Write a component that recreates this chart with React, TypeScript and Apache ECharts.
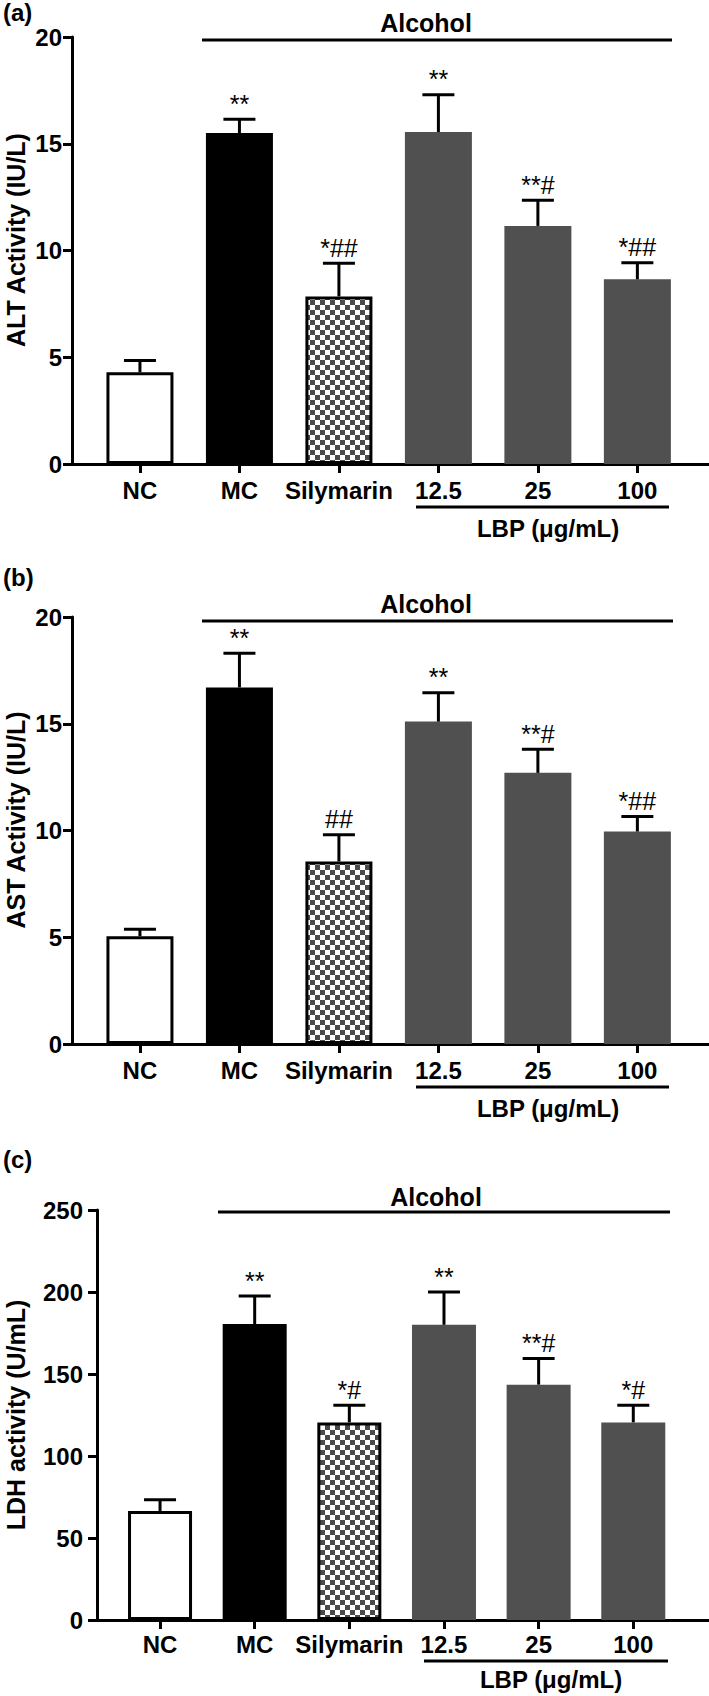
import React, { useEffect, useRef } from "react";
import * as echarts from "echarts";

// ---------------- data ----------------
const categories = ["NC", "MC", "Silymarin", "12.5", "25", "100"];

const altMean = [4.3, 15.5, 7.85, 15.55, 11.15, 8.65];
const altErr = [0.55, 0.65, 1.55, 1.75, 1.2, 0.78];
const altNotes = ["", "**", "*##", "**", "**#", "*##"];

const astMean = [5.05, 16.7, 8.55, 15.1, 12.7, 9.95];
const astErr = [0.33, 1.6, 1.25, 1.35, 1.1, 0.7];
const astNotes = ["", "**", "##", "**", "**#", "*##"];

const ldhMean = [66.5, 180.5, 120.5, 180, 143.5, 120.5];
const ldhErr = [6.8, 17, 10.5, 20, 16, 10.5];
const ldhNotes = ["", "**", "*#", "**", "**#", "*#"];

const altTicks = { max: 20, interval: 5 };
const astTicks = { max: 20, interval: 5 };
const ldhTicks = { max: 250, interval: 50 };

const panelLetters = ["(a)", "(b)", "(c)"];
const yTitles = ["ALT Activity (IU/L)", "AST Activity (IU/L)", "LDH activity (U/mL)"];
const groupLabel = "Alcohol";
const doseLabel = "LBP (\u03bcg/mL)";

const FONT = '"Liberation Sans", Arial, Helvetica, sans-serif';

function makeChecker(): HTMLCanvasElement {
  const c = document.createElement("canvas");
  c.width = 10;
  c.height = 10;
  const ctx = c.getContext("2d")!;
  ctx.fillStyle = "#ffffff";
  ctx.fillRect(0, 0, 10, 10);
  ctx.fillStyle = "#4a4a4a";
  ctx.fillRect(0, 0, 5, 5);
  ctx.fillRect(5, 5, 5, 5);
  return c;
}

export default function App() {
  const ref = useRef<HTMLDivElement>(null);

  useEffect(() => {
    document.body.style.margin = "0";
    if (!ref.current) return;
    const chart = echarts.init(ref.current, undefined, { renderer: "svg" });
    const checker = makeChecker();

    const barStyles = [
      { color: "#ffffff", borderColor: "#000000", borderWidth: 3 },
      { color: "#000000" },
      { color: { image: checker, repeat: "repeat" }, borderColor: "#000000", borderWidth: 3 },
      { color: "#505050" },
      { color: "#505050" },
      { color: "#505050" },
    ];

    const panels = [
      {
        mean: altMean, err: altErr, notes: altNotes, ticks: altTicks,
        grid: { left: 72, top: 37, width: 637, height: 427 },
        xMin: -0.683, xMax: 5.72, barWidth: 67, yLabelMargin: 10, xLabelMargin: 14,
        letterY: 12, titleY: 240,
        alcohol: { x: 426, y: 23, x1: 202, x2: 672, ly: 40 },
        lbp: { x1: 416, x2: 669, ly: 507, tx: 548, ty: 528 },
      },
      {
        mean: astMean, err: astErr, notes: astNotes, ticks: astTicks,
        grid: { left: 72, top: 617, width: 637, height: 427 },
        xMin: -0.683, xMax: 5.72, barWidth: 67, yLabelMargin: 10, xLabelMargin: 14,
        letterY: 577, titleY: 820,
        alcohol: { x: 426, y: 604, x1: 202, x2: 673, ly: 621 },
        lbp: { x1: 416, x2: 669, ly: 1087, tx: 548, ty: 1108 },
      },
      {
        mean: ldhMean, err: ldhErr, notes: ldhNotes, ticks: ldhTicks,
        grid: { left: 97, top: 1210, width: 612, height: 410 },
        xMin: -0.666, xMax: 5.8, barWidth: 64, yLabelMargin: 14, xLabelMargin: 12,
        letterY: 1159, titleY: 1415,
        alcohol: { x: 436, y: 1197, x1: 218, x2: 670, ly: 1212 },
        lbp: { x1: 424, x2: 668, ly: 1661, tx: 551, ty: 1679 },
      },
    ];

    const idxs = categories.map((_, i) => i);
    const grids: any[] = [];
    const xAxes: any[] = [];
    const yAxes: any[] = [];
    const series: any[] = [];
    const graphics: any[] = [];

    panels.forEach((p, k) => {
      grids.push({ ...p.grid, outerBoundsMode: "none", containLabel: false });
      xAxes.push({
        gridIndex: k,
        type: "value",
        min: p.xMin,
        max: p.xMax,
        axisLine: { show: true, onZero: false, lineStyle: { color: "#000", width: 3 } },
        axisTick: { show: true, customValues: idxs, length: 9, lineStyle: { color: "#000", width: 3 } },
        axisLabel: {
          show: true,
          customValues: idxs,
          formatter: (v: number) => categories[Math.round(v)] ?? "",
          color: "#000",
          fontWeight: "bold",
          fontSize: 24,
          fontFamily: FONT,
          margin: p.xLabelMargin,
        },
        splitLine: { show: false },
      });
      yAxes.push({
        gridIndex: k,
        type: "value",
        min: 0,
        max: p.ticks.max,
        interval: p.ticks.interval,
        axisLine: { show: true, onZero: false, lineStyle: { color: "#000", width: 3 } },
        axisTick: { show: true, length: 9, lineStyle: { color: "#000", width: 3 } },
        axisLabel: {
          color: "#000",
          fontWeight: "bold",
          fontSize: 24,
          fontFamily: FONT,
          margin: p.yLabelMargin,
        },
        splitLine: { show: false },
      });
      series.push({
        type: "bar",
        xAxisIndex: k,
        yAxisIndex: k,
        barWidth: p.barWidth,
        silent: true,
        data: p.mean.map((v, i) => ({ value: [i, v], itemStyle: barStyles[i] })),
      });
      const notes = p.notes;
      series.push({
        type: "custom",
        xAxisIndex: k,
        yAxisIndex: k,
        z: 10,
        silent: true,
        encode: { x: 0, y: 1 },
        data: p.mean.map((v, i) => [i, v, p.err[i]]),
        renderItem: (params: any, api: any) => {
          const i = api.value(0);
          const m = api.value(1);
          const e = api.value(2);
          const base = api.coord([i, m]);
          const top = api.coord([i, m + e]);
          const half = 16;
          return {
            type: "group",
            children: [
              { type: "line", shape: { x1: base[0], y1: base[1], x2: top[0], y2: top[1] }, style: { stroke: "#000", lineWidth: 3 } },
              { type: "line", shape: { x1: top[0] - half, y1: top[1], x2: top[0] + half, y2: top[1] }, style: { stroke: "#000", lineWidth: 3 } },
              {
                type: "text",
                x: top[0],
                y: top[1] - 3,
                style: {
                  text: notes[params.dataIndex],
                  fill: "#000",
                  fontSize: 25,
                  fontFamily: FONT,
                  align: "center",
                  verticalAlign: "bottom",
                },
              },
            ],
          };
        },
      });

      graphics.push({
        type: "text", x: 3, y: p.letterY,
        style: { text: panelLetters[k], fill: "#000", font: `bold 24px ${FONT}`, align: "left", verticalAlign: "middle" },
      });
      graphics.push({
        type: "text", x: 16, y: p.titleY, rotation: Math.PI / 2,
        style: { text: yTitles[k], fill: "#000", font: `bold 25px ${FONT}`, align: "center", verticalAlign: "middle" },
      });
      graphics.push({
        type: "text", x: p.alcohol.x, y: p.alcohol.y,
        style: { text: groupLabel, fill: "#000", font: `bold 25px ${FONT}`, align: "center", verticalAlign: "middle" },
      });
      graphics.push({
        type: "line",
        shape: { x1: p.alcohol.x1, y1: p.alcohol.ly, x2: p.alcohol.x2, y2: p.alcohol.ly },
        style: { stroke: "#000", lineWidth: 3 },
      });
      graphics.push({
        type: "line",
        shape: { x1: p.lbp.x1, y1: p.lbp.ly, x2: p.lbp.x2, y2: p.lbp.ly },
        style: { stroke: "#000", lineWidth: 3 },
      });
      graphics.push({
        type: "text", x: p.lbp.tx, y: p.lbp.ty,
        style: { text: doseLabel, fill: "#000", font: `bold 24px ${FONT}`, align: "center", verticalAlign: "middle" },
      });
    });

    chart.setOption({
      animation: false,
      backgroundColor: "#ffffff",
      grid: grids,
      xAxis: xAxes,
      yAxis: yAxes,
      series,
      graphic: graphics,
    });

    return () => {
      chart.dispose();
    };
  }, []);

  return <div ref={ref} style={{ width: 709, height: 1696 }} />;
}
